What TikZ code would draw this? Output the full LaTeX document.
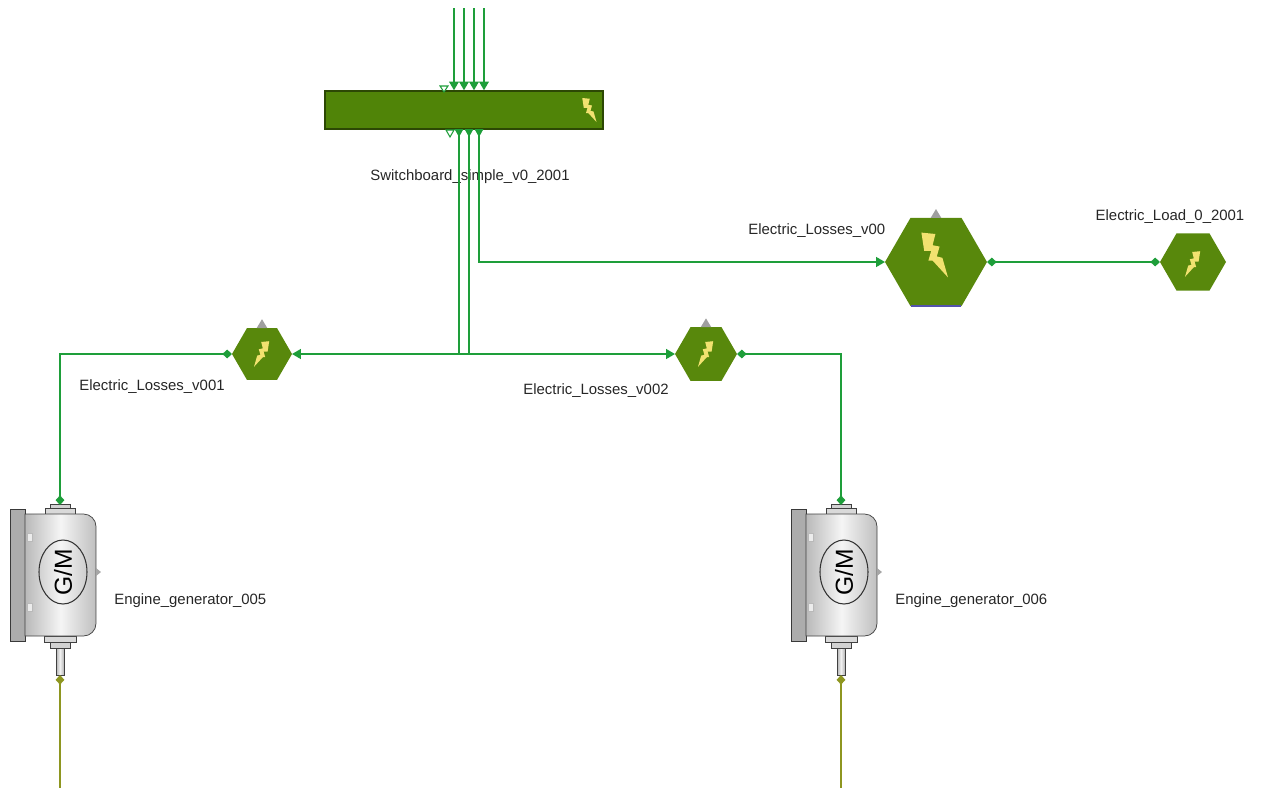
\documentclass[tikz,border=0pt]{standalone}
\usepackage{fontspec}
\setmainfont{Liberation Sans}
\usetikzlibrary{arrows.meta,shapes.geometric,calc}

\definecolor{hexgreen}{RGB}{88,136,12}
\definecolor{busgreen}{RGB}{80,132,8}
\definecolor{busedge}{RGB}{44,72,4}
\definecolor{linkgreen}{RGB}{30,158,58}
\definecolor{shaftolive}{RGB}{142,150,32}
\definecolor{boltyellow}{RGB}{242,226,112}

\tikzset{
  lbl/.style={font=\fontsize{8.5}{10}\selectfont, text=black!85, inner sep=0pt},
  hexnode/.style={regular polygon, regular polygon sides=6, fill=hexgreen, inner sep=0pt, outer sep=0pt},
  link/.style={draw=linkgreen, line width=1pt},
  shaft/.style={draw=shaftolive, line width=1pt},
  ptip/.tip={Triangle[length=5pt,width=5.5pt]},
  pdot/.tip={Diamond[length=5.5pt,width=5pt]},
  pics/bolt/.style={code={
    \fill[boltyellow] (-9,-16) -- (1,-15) -- (-1,-7) -- (4,-6) -- (2,1) -- (6,2) -- (10,16)
      -- (-1,4) -- (-4,4) -- (-2,-3) -- (-7,-3) -- cycle;
  }},
  pics/engine/.style={code={
    % plaque de fixation
    \draw[fill=gray!65, draw=gray!45!black, line width=0.4pt] (-50,-63) rectangle (-35,69);
    % embouts haut et bas
    \draw[fill=gray!35, draw=gray!50!black, line width=0.3pt] (-10,-68) rectangle (10,-64);
    \draw[fill=gray!30, draw=gray!50!black, line width=0.3pt] (-15,-64) rectangle (15,-58);
    \draw[fill=gray!30, draw=gray!50!black, line width=0.3pt] (-16,64) rectangle (16,70);
    \draw[fill=gray!35, draw=gray!50!black, line width=0.3pt] (-10,70) rectangle (10,76);
    \draw[left color=gray!60, right color=gray!60, middle color=gray!10, draw=gray!50!black, line width=0.3pt]
      (-4,76) rectangle (4,103);
    % corps du moteur
    \draw[left color=gray!55, right color=gray!50, middle color=gray!8, draw=gray!50!black, line width=0.4pt]
      (-35,-58) [rounded corners=0.25cm]-- (36,-58) -- (36,64) [sharp corners]-- (-35,64) -- cycle;
    \fill[gray!70] (36,-4) -- (41,0) -- (36,4) -- cycle;
    \draw[fill=gray!15, draw=gray!55, line width=0.3pt] (-33,-39) rectangle (-28,-31);
    \draw[fill=gray!15, draw=gray!55, line width=0.3pt] (-33,31) rectangle (-28,39);
    % symbole G/M
    \draw[black!80, line width=0.6pt] (3,0) ellipse [x radius=24, y radius=32];
    \node[rotate=90, font=\fontsize{14}{14}\selectfont, inner sep=0pt] at (3,0) {G/M};
    \coordinate (-top) at (0,-67);
    \coordinate (-bot) at (0,103);
  }}
}

\begin{document}
\begin{tikzpicture}[x=0.02cm, y=-0.02cm]
  \useasboundingbox (0,0) rectangle (1269,788);

  % Tableau de distribution
  \node[draw=busedge, fill=busgreen, line width=0.8pt, minimum width=5.56cm, minimum height=0.76cm,
        inner sep=0pt] (sb) at (464,110) {};
  \pic[scale=0.75] at (589,110) {bolt};
  \node[lbl] (sblbl) at (470,177) {Switchboard\_simple\_v0\_2001};

  % Hexagones de pertes et charge
  \begin{scope}
    \clip (700,200) rectangle (884,250);
    \node[lbl, anchor=west] (l3lbl) at (748,231) {Electric\_Losses\_v003};
  \end{scope}
  \node[hexnode, minimum size=1.2cm] (L1) at (262,354) {};
  \node[hexnode, minimum size=1.24cm] (L2) at (706,354) {};
  \node[hexnode, minimum size=2.04cm] (L3) at (936,262) {};
  \node[hexnode, minimum size=1.32cm] (load) at (1193,262) {};
  \pic[xscale=-0.8, yscale=0.8] at (262,354) {bolt};
  \pic[xscale=-0.8, yscale=0.8] at (706,354) {bolt};
  \pic[scale=1.4] at (934,255) {bolt};
  \pic[xscale=-0.8, yscale=0.8] at (1193,264) {bolt};
  \draw[blue!35!gray, line width=1pt] ([xshift=-0.5cm]L3.south) -- ([xshift=0.5cm]L3.south);

  % Petits triangles gris au sommet
  \foreach \h in {L1,L2,L3}
    \fill[gray!75] ([xshift=-3pt]\h.north) -- ([xshift=3pt]\h.north) -- ([yshift=5pt]\h.north) -- cycle;

  \node[lbl] (l1lbl) at (152,387) {Electric\_Losses\_v001};
  \node[lbl] (l2lbl) at (596,391) {Electric\_Losses\_v002};
  \node[lbl] (loadlbl) at (1170,217) {Electric\_Load\_0\_2001};

  % Groupes electrogenes
  \pic (gen5) at (60,572) {engine};
  \pic (gen6) at (841,572) {engine};
  \node[lbl, anchor=west] (g5lbl) at (114,601) {Engine\_generator\_005};
  \node[lbl, anchor=west] (g6lbl) at (895,601) {Engine\_generator\_006};

  % Lignes d'entree du tableau
  \foreach \i/\x in {1/454,2/464,3/474,4/484} {
    \coordinate (in\i) at (\x,8);
    \draw[link, -{ptip}] (in\i) -- (in\i |- sb.north);
  }
  \draw[linkgreen, line width=0.6pt, fill=white] (440,86) -- (448,86) -- (444,92) -- cycle;

  % Ports de sortie
  \foreach \i/\x in {1/459,2/469,3/479} {
    \coordinate (out\i) at (\x,129);
    \fill[linkgreen] (\x-4.5,129) -- (\x+4.5,129) -- (\x,137) -- cycle;
  }
  \draw[linkgreen, line width=0.6pt, fill=white] (446,130) -- (454,130) -- (450,137) -- cycle;

  % Liaisons electriques
  \draw[link, -{ptip}] (out1) |- (L1.east);
  \draw[link, -{ptip}] (out2) |- (L2.west);
  \draw[link] (out1 |- L1.east) -- (out2 |- L2.west);
  \draw[link, -{ptip}] (out3) |- (L3.west);
  \draw[link, {pdot}-{pdot}] (L3.east) -- (load.west);
  \draw[link, {pdot}-{pdot}] (L1.west) -| (gen5-top);
  \draw[link, {pdot}-{pdot}] (L2.east) -| (gen6-top);

  % Arbres mecaniques
  \coordinate (g5out) at (60,790);
  \coordinate (g6out) at (841,790);
  \draw[shaft, {pdot}-] (gen5-bot) -- (g5out);
  \draw[shaft, {pdot}-] (gen6-bot) -- (g6out);
\end{tikzpicture}
\end{document}
